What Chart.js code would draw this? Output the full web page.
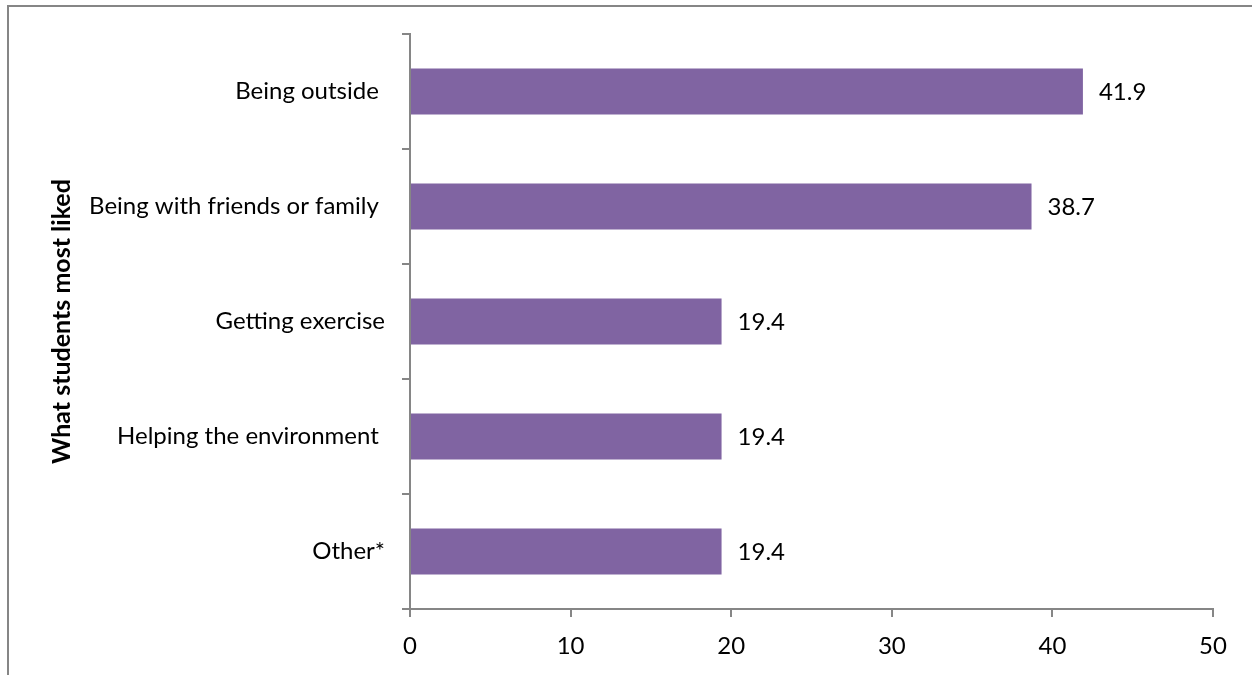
<!DOCTYPE html>
<html>
<head>
<meta charset="utf-8">
<script src="https://cdn.jsdelivr.net/npm/chart.js@4.4.1/dist/chart.umd.min.js"></script>
<style>
  html, body { margin: 0; padding: 0; background: #ffffff; }
  canvas { display: block; }
</style>
</head>
<body>
<canvas id="chart" width="1253" height="675"></canvas>
<script>
// What students liked most (percent of students)
const categories = [
  'Being outside ',
  'Being with friends or family ',
  'Getting exercise',
  'Helping the environment ',
  'Other*'
];
const percentValues = [41.9, 38.7, 19.4, 19.4, 19.4];
const xTickValues = [0, 10, 20, 30, 40, 50];
const axisTitle = 'What students most liked';

const FONT = 'Lato, "Open Sans", sans-serif';
const AXIS_GREY = '#868686';
const BAR_PURPLE = '#8064A2';

// Outer frame around the chart (left and top edges)
const framePlugin = {
  id: 'frame',
  beforeDraw(chart) {
    const ctx = chart.ctx;
    ctx.save();
    ctx.strokeStyle = AXIS_GREY;
    ctx.lineWidth = 2;
    ctx.beginPath();
    ctx.moveTo(8, 675);
    ctx.lineTo(8, 6);
    ctx.lineTo(1252, 6);
    ctx.stroke();
    ctx.restore();
  }
};

// Value printed to the right of each bar
const valueLabelPlugin = {
  id: 'valueLabels',
  afterDatasetsDraw(chart) {
    const ctx = chart.ctx;
    const meta = chart.getDatasetMeta(0);
    const data = chart.data.datasets[0].data;
    ctx.save();
    ctx.font = '24px ' + FONT;
    ctx.fillStyle = '#000000';
    ctx.textAlign = 'left';
    ctx.textBaseline = 'middle';
    meta.data.forEach((bar, i) => {
      ctx.fillText(data[i].toFixed(1), bar.x + 16, bar.y + 1);
    });
    ctx.restore();
  }
};

// Rotated title for the category axis
const axisTitlePlugin = {
  id: 'axisTitle',
  afterDraw(chart) {
    const ctx = chart.ctx;
    const area = chart.chartArea;
    ctx.save();
    ctx.translate(62, (area.top + area.bottom) / 2);
    ctx.rotate(-Math.PI / 2);
    ctx.font = 'bold 25px ' + FONT;
    ctx.fillStyle = '#000000';
    ctx.textAlign = 'center';
    ctx.textBaseline = 'middle';
    ctx.fillText(axisTitle, 0, 0);
    ctx.restore();
  }
};

new Chart(document.getElementById('chart'), {
  type: 'bar',
  data: {
    labels: categories,
    datasets: [{
      data: percentValues,
      backgroundColor: BAR_PURPLE,
      borderWidth: 0,
      barPercentage: 0.4,
      categoryPercentage: 1.0
    }]
  },
  options: {
    indexAxis: 'y',
    responsive: false,
    animation: false,
    devicePixelRatio: 1,
    layout: { padding: { top: 34, right: 40, left: 0, bottom: 0 } },
    plugins: {
      legend: { display: false },
      tooltip: { enabled: false },
      title: { display: false }
    },
    scales: {
      x: {
        type: 'linear',
        min: 0,
        max: 50,
        afterBuildTicks(scale) {
          scale.ticks = xTickValues.map(v => ({ value: v }));
        },
        afterFit(scale) { scale.height = 66; },
        grid: {
          drawOnChartArea: false,
          drawTicks: true,
          tickLength: 8,
          color: AXIS_GREY,
          lineWidth: 2
        },
        border: { display: true, color: AXIS_GREY, width: 2 },
        ticks: {
          color: '#000000',
          font: { family: FONT, size: 24 },
          padding: 15,
          maxRotation: 0
        }
      },
      y: {
        type: 'category',
        afterFit(scale) { scale.width = 410; },
        grid: {
          offset: true,
          drawOnChartArea: false,
          drawTicks: true,
          tickLength: 8,
          color: AXIS_GREY,
          lineWidth: 2
        },
        border: { display: true, color: AXIS_GREY, width: 2 },
        ticks: {
          color: '#000000',
          font: { family: FONT, size: 24 },
          padding: 17,
          autoSkip: false
        }
      }
    }
  },
  plugins: [framePlugin, valueLabelPlugin, axisTitlePlugin]
});
</script>
</body>
</html>
